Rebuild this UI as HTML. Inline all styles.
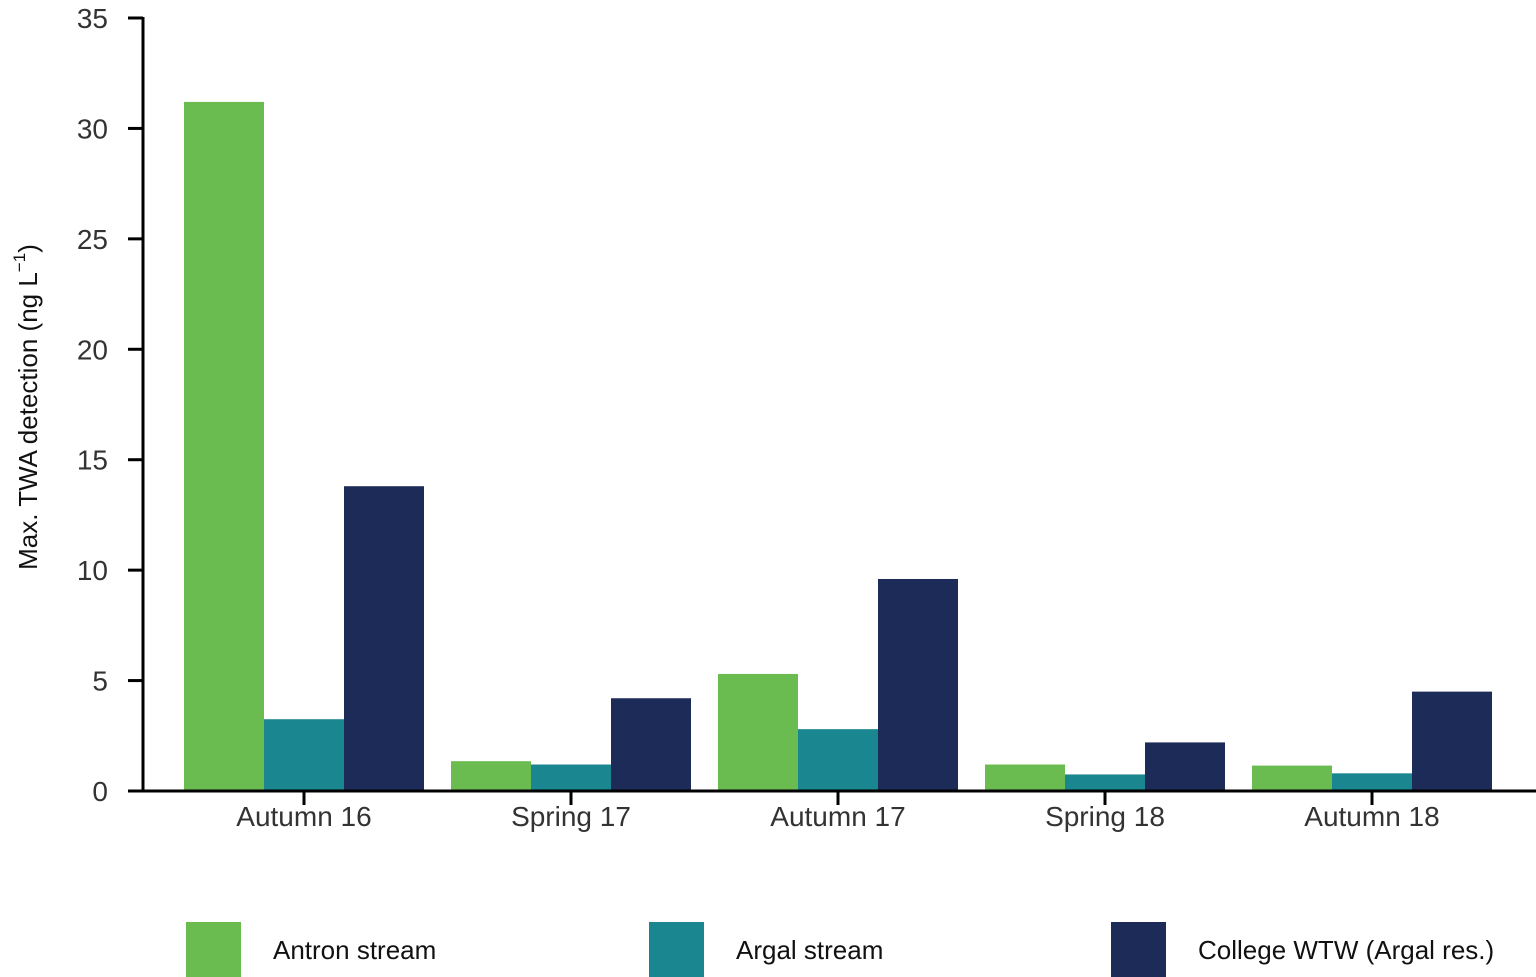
<!DOCTYPE html>
<html><head><meta charset="utf-8"><style>
html,body{margin:0;padding:0;background:#fff;}
svg{display:block;font-family:"Liberation Sans",Arial,sans-serif;}
</style></head><body>
<svg id="chart" width="1536" height="977" viewBox="0 0 1536 977" xmlns="http://www.w3.org/2000/svg">
<g id="bars"></g>
<g id="axes"></g>
<text transform="translate(37,407) rotate(-90)" text-anchor="middle" font-size="26" fill="#111">Max. TWA detection (ng L<tspan dy="-12" font-size="17">−1</tspan><tspan dy="12">)</tspan></text>
<g id="legend"></g>
</svg>
<script>
const categories = ["Autumn 16","Spring 17","Autumn 17","Spring 18","Autumn 18"];
const seriesNames = ["Antron stream","Argal stream","College WTW (Argal res.)"];
const antron = [31.2,1.35,5.3,1.2,1.15];
const argal = [3.25,1.2,2.8,0.75,0.8];
const college = [13.8,4.2,9.6,2.2,4.5];
const yTicks = [0,5,10,15,20,25,30,35];

const NS="http://www.w3.org/2000/svg";
const colors=["#6abb50","#1a8690","#1c2b57"];
const y0=791, yTop=18, yMax=35;
function yScale(v){return y0-(v/yMax)*(y0-yTop);}
function xCenter(i){return 304+i*267;}
const bw=80;
function mk(tag,attrs,parent){const e=document.createElementNS(NS,tag);for(const k in attrs)e.setAttribute(k,attrs[k]);parent.appendChild(e);return e;}
const bars=document.getElementById('bars'),axes=document.getElementById('axes'),legend=document.getElementById('legend');
const series=[antron,argal,college];
series.forEach((s,si)=>{
  s.forEach((v,i)=>{
    const x=xCenter(i)-1.5*bw+si*bw;
    const r=mk('rect',{x:x,y:yScale(v),width:bw,height:y0-yScale(v),fill:colors[si]},bars);
    
    
  });
});
// y axis
let l=mk('line',{x1:143,y1:yTop-1,x2:143,y2:y0+1,stroke:'#000','stroke-width':3},axes);


l=mk('line',{x1:128,y1:y0,x2:1536,y2:y0,stroke:'#000','stroke-width':3},axes);


yTicks.forEach(t=>{
  const y=yScale(t);
  const tk=mk('line',{x1:128,y1:y,x2:143,y2:y,stroke:'#000','stroke-width':3},axes);
  
  
  const tx=mk('text',{x:108,y:y+10,'text-anchor':'end','font-size':28,fill:'#333'},axes);
  
  
  tx.textContent=t;
});
categories.forEach((c,i)=>{
  const x=xCenter(i);
  const tk=mk('line',{x1:x,y1:y0,x2:x,y2:y0+14,stroke:'#000','stroke-width':3},axes);
  
  
  const tx=mk('text',{x:x,y:826,'text-anchor':'middle','font-size':28,fill:'#333'},axes);
  
  
  tx.textContent=c;
});
const legX=[186,649,1111];
seriesNames.forEach((n,i)=>{
  const r=mk('rect',{x:legX[i],y:922,width:55,height:55,fill:colors[i]},legend);
  
  
  const t=mk('text',{x:legX[i]+87,y:959,'font-size':26,fill:'#111'},legend);
  
  
  t.textContent=n;
});
</script>
</body></html>
